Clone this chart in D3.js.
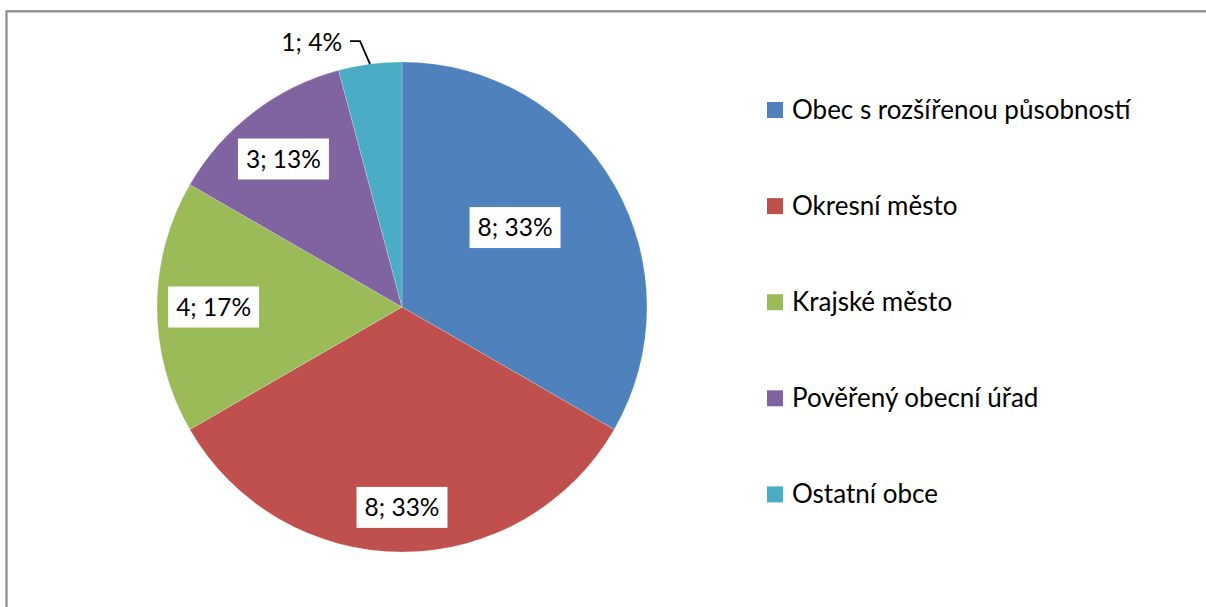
<!DOCTYPE html>
<html>
<head>
<meta charset="utf-8">
<script src="https://cdn.jsdelivr.net/npm/d3@7"></script>
<style>
  html, body { margin: 0; padding: 0; background: #ffffff; }
  svg { display: block; }
  text { font-family: Lato, "Noto Sans", sans-serif; fill: #000; }
</style>
</head>
<body>
<script>
// ---- data ----
const categories = ["Obec s rozšířenou působností", "Okresní město", "Krajské město", "Pověřený obecní úřad", "Ostatní obce"];
const values = [8, 8, 4, 3, 1];
const percents = [33, 33, 17, 13, 4];
const colors = ["#4F81BD", "#C0504D", "#9BBB59", "#8064A2", "#4BACC6"];

// label placement styling: [radius factor, angle nudge in degrees]
const labelPlacement = [[0.564, -5.1], [0.818, 0], [0.769, 0], [0.774, -1.2], null];

const W = 1206, H = 607;
const cx = 402, cy = 307, R = 245;
const labelFont = 24.5;
const legendFont = 26;

const svg = d3.select("body").append("svg").attr("width", W).attr("height", H);
svg.append("rect").attr("width", W).attr("height", H).attr("fill", "#fff");

// chart frame (extends past right and bottom edges)
svg.append("rect")
  .attr("x", 6.5).attr("y", 11.3)
  .attr("width", W + 20).attr("height", H + 20)
  .attr("fill", "none").attr("stroke", "#8a8a8a").attr("stroke-width", 2.2);

const data = categories.map((c, i) => ({ name: c, value: values[i], pct: percents[i], color: colors[i], place: labelPlacement[i] }));

const pie = d3.pie().sort(null).value(d => d.value);
const arcs = pie(data);
const arc = d3.arc().innerRadius(0).outerRadius(R);

const g = svg.append("g").attr("transform", `translate(${cx},${cy})`);
g.selectAll("path.slice").data(arcs).join("path")
  .attr("class", "slice")
  .attr("d", arc)
  .attr("fill", d => d.data.color)
  .attr("stroke", "#ffffff").attr("stroke-width", 0.5).attr("stroke-opacity", 0.4);

function polar(rad, angleRad) {
  return [rad * Math.sin(angleRad), -rad * Math.cos(angleRad)];
}

arcs.forEach(a => {
  const mid = (a.startAngle + a.endAngle) / 2;
  const txt = `${a.data.value}; ${a.data.pct}%`;
  if (a.data.place) {
    const [rf, nudge] = a.data.place;
    const [x, y] = polar(rf * R, mid + nudge * Math.PI / 180);
    const lg = g.append("g").attr("transform", `translate(${x},${y})`);
    const rect = lg.append("rect").attr("fill", "#fff");
    const t = lg.append("text")
      .attr("text-anchor", "middle")
      .attr("dy", "0.36em")
      .style("font-size", labelFont + "px")
      .text(txt);
    const bb = t.node().getBBox();
    const bw = Math.max(bb.width + 16, 89), bh = 41;
    rect.attr("x", -bw / 2).attr("y", -bh / 2).attr("width", bw).attr("height", bh);
  } else {
    const [x0, y0] = polar(R, mid);
    const x1 = x0 - 10, y1 = y0 - 23;
    const x2 = x1 - 10;
    g.append("path")
      .attr("d", `M${x0},${y0}L${x1},${y1}L${x2},${y1}`)
      .attr("fill", "none").attr("stroke", "#000").attr("stroke-width", 1.8);
    g.append("text")
      .attr("x", x2 - 8).attr("y", y1 + 1)
      .attr("text-anchor", "end")
      .attr("dy", "0.36em")
      .style("font-size", labelFont + "px")
      .text(txt);
  }
});

// legend
const legendX = 767, legendY0 = 110, legendStep = 96.1, sq = 16;
const lg = svg.append("g");
const items = lg.selectAll("g.item").data(data).join("g")
  .attr("class", "item")
  .attr("transform", (d, i) => `translate(${legendX},${legendY0 + i * legendStep})`);
items.append("rect")
  .attr("x", 0).attr("y", -sq / 2).attr("width", sq).attr("height", sq)
  .attr("fill", d => d.color);
items.append("text")
  .attr("x", 25).attr("y", 9)
  .style("font-size", legendFont + "px")
  .text(d => d.name);
</script>
</body>
</html>
